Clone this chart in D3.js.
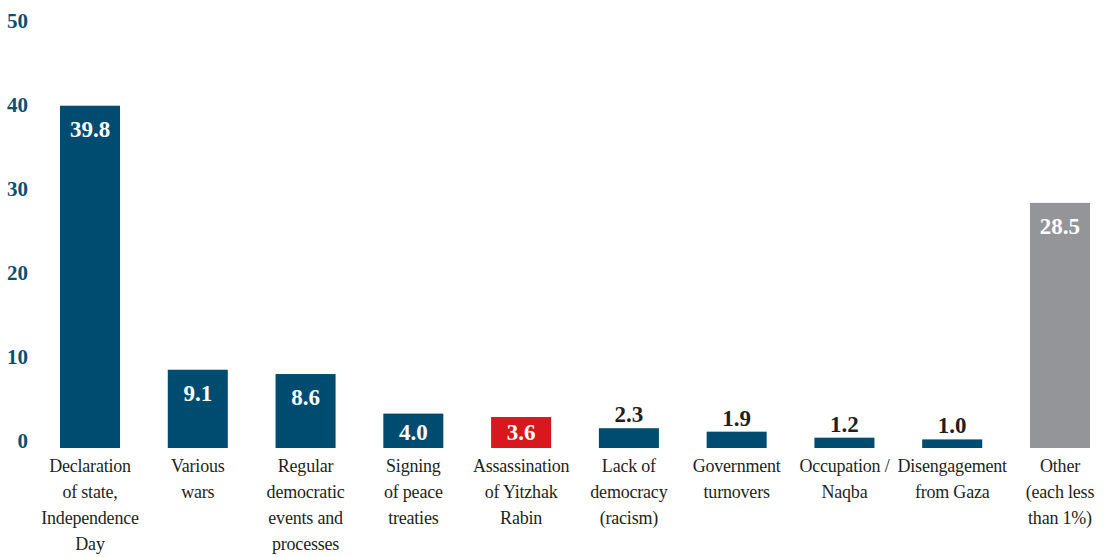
<!DOCTYPE html>
<html>
<head>
<meta charset="utf-8">
<script src="https://cdn.jsdelivr.net/npm/d3@7"></script>
<style>
  html, body { margin: 0; padding: 0; background: #ffffff; }
  svg { display: block; }
</style>
</head>
<body>
<script>
// Categories (each label split into its printed lines)
const categories = [
  ["Declaration", "of state,", "Independence", "Day"],
  ["Various", "wars"],
  ["Regular", "democratic", "events and", "processes"],
  ["Signing", "of peace", "treaties"],
  ["Assassination", "of Yitzhak", "Rabin"],
  ["Lack of", "democracy", "(racism)"],
  ["Government", "turnovers"],
  ["Occupation /", "Naqba"],
  ["Disengagement", "from Gaza"],
  ["Other", "(each less", "than 1%)"]
];
// Share of responses, percent
const values = [39.8, 9.1, 8.6, 4.0, 3.6, 2.3, 1.9, 1.2, 1.0, 28.5];
// Highlight group for each bar
const groups = ["main", "main", "main", "main", "highlight", "main", "main", "main", "main", "other"];
// Y axis tick labels
const yTicks = [0, 10, 20, 30, 40, 50];

const W = 1106, H = 557;
const FONT = '"Liberation Serif", "Times New Roman", serif';
const colors = { main: "#004c70", highlight: "#d7181f", other: "#939598" };

const svg = d3.select("body").append("svg")
  .attr("width", W).attr("height", H);

const keys = categories.map((c, i) => i);

const x = d3.scaleBand()
  .domain(keys)
  .range([60, 1090])
  .paddingInner(0.443)
  .paddingOuter(0);

const y = d3.scaleLinear().domain([0, 50]).range([448, 18]);
// Tick labels sit on their own slightly tighter scale
const yLabel = d3.scaleLinear().domain([0, 50]).range([440, 20]);

// Y axis: labels only, no line or tick marks
const axis = svg.append("g")
  .attr("transform", "translate(28,0)")
  .call(d3.axisLeft(yLabel).tickValues(yTicks).tickSize(0).tickPadding(0).tickFormat(d3.format("d")));
axis.select(".domain").remove();
axis.attr("font-family", FONT).attr("font-size", 21).attr("font-weight", "bold");
axis.selectAll("text")
  .attr("dy", "0.35em")
  .attr("fill", "#0b4f72");

// Bars
svg.append("g").selectAll("rect")
  .data(keys)
  .join("rect")
  .attr("x", i => x(i))
  .attr("width", x.bandwidth())
  .attr("y", i => y(values[i]))
  .attr("height", i => y(0) - y(values[i]))
  .attr("fill", i => colors[groups[i]]);

// Value labels: inside tall bars in white, above short bars in dark
const inside = v => v >= 3.5;
svg.append("g").selectAll("text")
  .data(keys)
  .join("text")
  .attr("font-family", FONT)
  .attr("font-size", 23)
  .attr("font-weight", "bold")
  .attr("text-anchor", "middle")
  .attr("x", i => x(i) + x.bandwidth() / 2)
  .attr("y", i => inside(values[i]) ? Math.min(y(values[i]) + 31, 440) : y(values[i]) - 6)
  .attr("fill", i => inside(values[i]) ? "#ffffff" : "#231f20")
  .text(i => values[i].toFixed(1));

// Category labels under each bar
const catG = svg.append("g").selectAll("text")
  .data(keys)
  .join("text")
  .attr("font-family", FONT)
  .attr("font-size", 18)
  .attr("letter-spacing", -0.2)
  .attr("fill", "#231f20")
  .attr("text-anchor", "middle")
  .attr("x", i => x(i) + x.bandwidth() / 2)
  .attr("y", 472);
catG.selectAll("tspan")
  .data(i => categories[i].map(line => ({ line, cx: x(i) + x.bandwidth() / 2 })))
  .join("tspan")
  .attr("x", d => d.cx)
  .attr("dy", (d, j) => j === 0 ? 0 : 26)
  .text(d => d.line);
</script>
</body>
</html>
